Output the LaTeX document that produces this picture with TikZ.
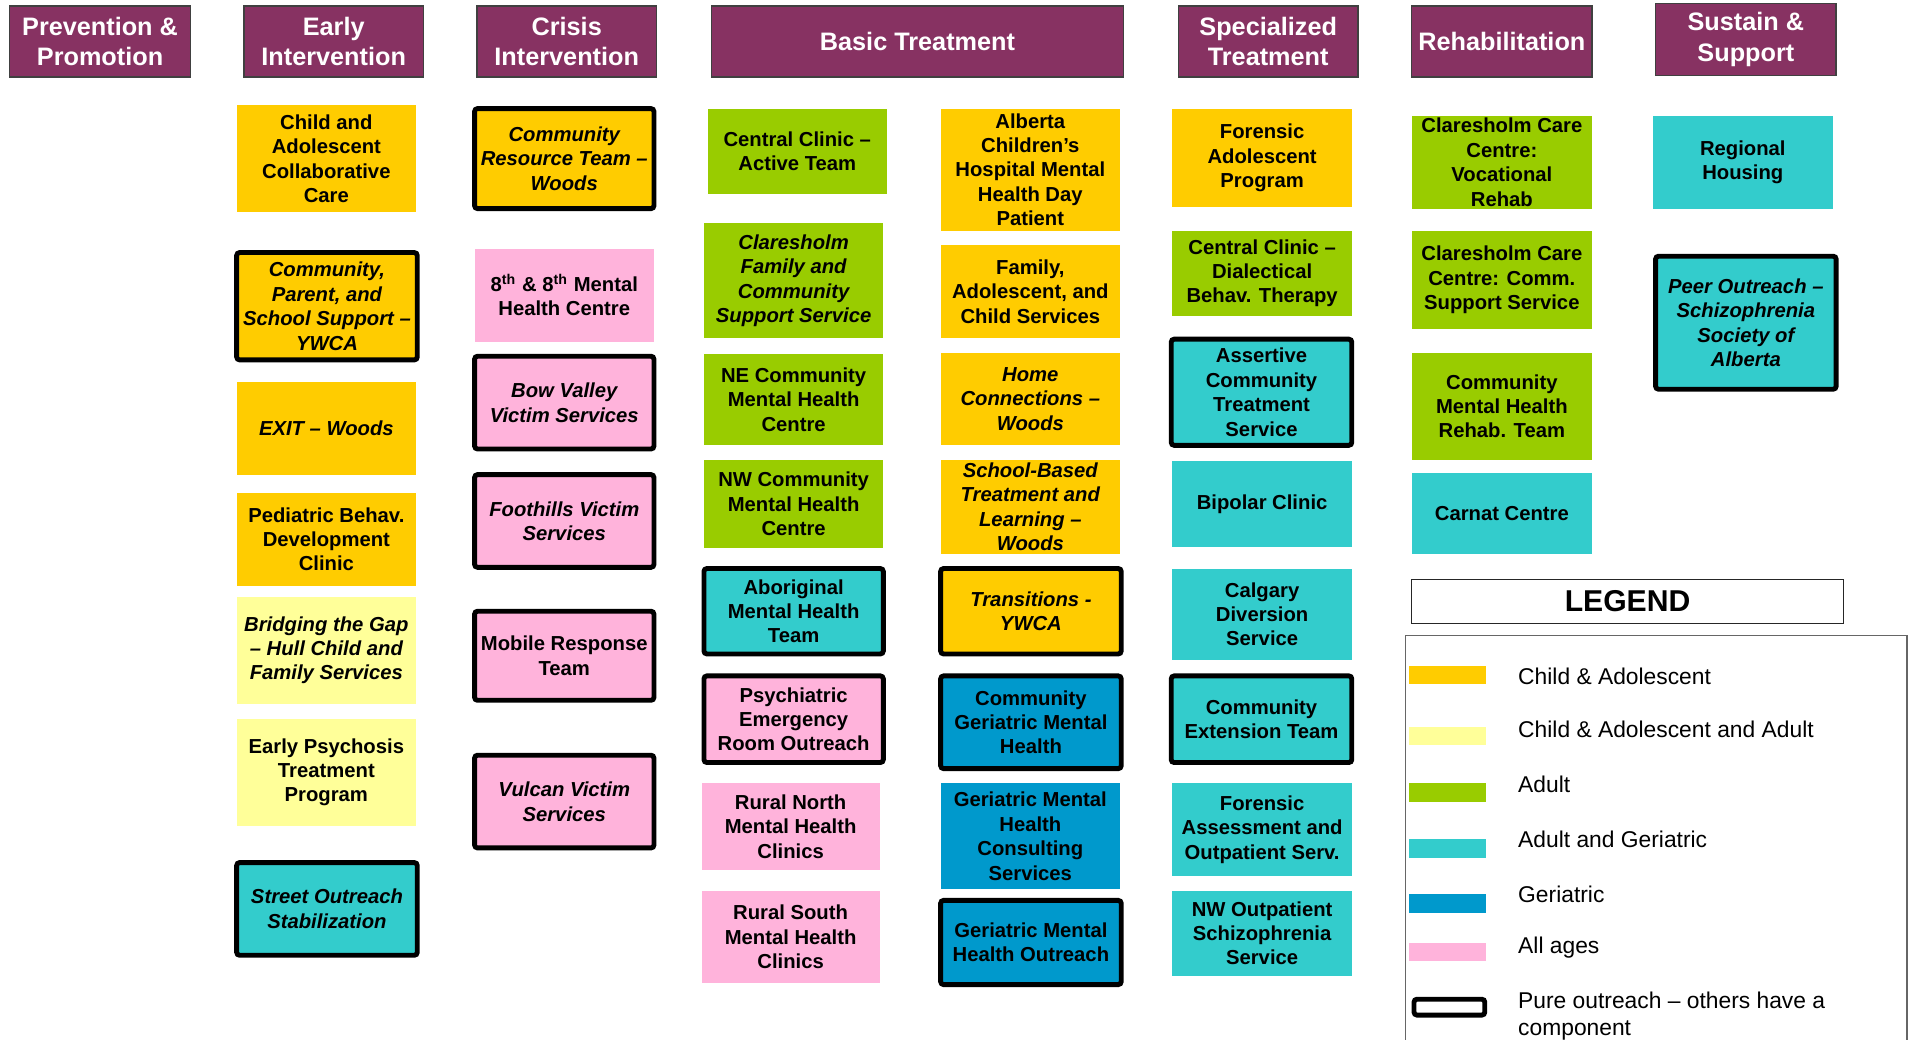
\documentclass[tikz,border=0pt]{standalone}
\usepackage{fontspec}
\setmainfont{Liberation Sans}
\definecolor{orng}{HTML}{FFCC00}
\definecolor{lyel}{HTML}{FFFF99}
\definecolor{grn}{HTML}{99CC00}
\definecolor{tealc}{HTML}{33CCCC}
\definecolor{blu}{HTML}{0099CC}
\definecolor{pnk}{HTML}{FFB3DB}
\definecolor{maroon}{HTML}{873262}
\newcommand\bxf{\fontsize{8.3}{10}\selectfont\bfseries}
\newcommand\hdf{\fontsize{10.35}{12.5}\selectfont\bfseries}
\newcommand\lgf{\fontsize{9.35}{11}\selectfont}
\newcommand\bx[7]{%
  \pgfmathsetmacro\bw{(#4-#2)*0.5}%
  \pgfmathsetmacro\bh{(#5-#3)*0.5}%
  \node[#6, minimum width=\bw pt, minimum height=\bh pt] (#1) at ({(#2+#4)/2},{(#3+#5)/2}) {#7};}
\begin{document}
\begin{tikzpicture}[x=0.5pt,y=-0.5pt,
  base/.style={inner sep=0pt, align=center, font=\bxf, text=black},
  plain/.style={base},
  outr/.style={base, draw=black, line width=2pt, rounded corners=1.2pt},
  it/.style={font=\bxf\itshape},
  hdr/.style={fill=maroon, draw=black!75, line width=0.6pt, text=white, font=\hdf, align=center, inner sep=0pt},
  swatch/.style={inner sep=0pt, minimum width=31.5pt, minimum height=7.5pt},
  legtext/.style={anchor=west, inner sep=0pt, font=\lgf, align=left}]
\useasboundingbox (0,0) rectangle (1568,852);
% headers
\bx{hprev}{8}{5}{156}{63}{hdr}{Prevention \&\\Promotion}
\bx{hearly}{200}{5}{347}{63}{hdr}{Early\\Intervention}
\bx{hcrisis}{391}{5}{538}{63}{hdr}{Crisis\\Intervention}
\bx{hbasic}{583}{5}{921}{63}{hdr}{Basic Treatment}
\bx{hspec}{966}{5}{1113}{63}{hdr}{Specialized\\Treatment}
\bx{hrehab}{1157}{5}{1305}{63}{hdr}{Rehabilitation}
\bx{hsust}{1357}{3}{1505}{62}{hdr}{Sustain \&\\Support}
% early intervention
\bx{e1}{194}{86}{341}{174}{plain,fill=orng}{Child and\\Adolescent\\Collaborative\\Care}
\bx{e2}{194}{207}{342}{295}{outr,fill=orng,it}{Community,\\Parent, and\\School Support –\\YWCA}
\bx{e3}{194}{313}{341}{389}{plain,fill=orng,it}{EXIT – Woods}
\bx{e4}{194}{404}{341}{480}{plain,fill=orng}{Pediatric Behav.\\Development\\Clinic}
\bx{e5}{194}{489}{341}{577}{plain,fill=lyel,it}{Bridging the Gap\\– Hull Child and\\Family Services}
\bx{e6}{194}{589}{341}{677}{plain,fill=lyel}{Early Psychosis\\Treatment\\Program}
\bx{e7}{194}{707}{342}{783}{outr,fill=tealc,it}{Street Outreach\\Stabilization}
% crisis
\bx{c1}{389}{89}{536}{171}{outr,fill=orng,it}{Community\\Resource Team –\\Woods}
\bx{c2}{389}{204}{536}{280}{plain,fill=pnk}{8\textsuperscript{th} \& 8\textsuperscript{th} Mental\\Health Centre}
\bx{c3}{389}{292}{536}{368}{outr,fill=pnk,it}{Bow Valley\\Victim Services}
\bx{c4}{389}{389}{536}{465}{outr,fill=pnk,it}{Foothills Victim\\Services}
\bx{c5}{389}{501}{536}{574}{outr,fill=pnk}{Mobile Response\\Team}
\bx{c6}{389}{619}{536}{695}{outr,fill=pnk,it}{Vulcan Victim\\Services}
% basic left
\bx{b1}{580}{89}{727}{159}{plain,fill=grn}{Central Clinic –\\Active Team}
\bx{b2}{577}{183}{724}{277}{plain,fill=grn,it}{Claresholm\\Family and\\Community\\Support Service}
\bx{b3}{577}{290}{724}{365}{plain,fill=grn}{NE Community\\Mental Health\\Centre}
\bx{b4}{577}{377}{724}{449}{plain,fill=grn}{NW Community\\Mental Health\\Centre}
\bx{b5}{577}{466}{724}{536}{outr,fill=tealc}{Aboriginal\\Mental Health\\Team}
\bx{b6}{577}{554}{724}{625}{outr,fill=pnk}{Psychiatric\\Emergency\\Room Outreach}
\bx{b7}{575}{642}{721}{713}{plain,fill=pnk}{Rural North\\Mental Health\\Clinics}
\bx{b8}{575}{730}{721}{806}{plain,fill=pnk}{Rural South\\Mental Health\\Clinics}
% basic right
\bx{r1}{771}{89}{918}{189}{plain,fill=orng}{Alberta\\Children’s\\Hospital Mental\\Health Day\\Patient}
\bx{r2}{771}{201}{918}{277}{plain,fill=orng}{Family,\\Adolescent, and\\Child Services}
\bx{r3}{771}{289}{918}{365}{plain,fill=orng,it}{Home\\Connections –\\Woods}
\bx{r4}{771}{377}{918}{454}{plain,fill=orng,it}{School-Based\\Treatment and\\Learning –\\Woods}
\bx{r5}{771}{466}{919}{536}{outr,fill=orng,it}{Transitions -\\YWCA}
\bx{r6}{771}{554}{919}{630}{outr,fill=blu}{Community\\Geriatric Mental\\Health}
\bx{r7}{771}{642}{918}{729}{plain,fill=blu}{Geriatric Mental\\Health\\Consulting\\Services}
\bx{r8}{771}{738}{919}{807}{outr,fill=blu}{Geriatric Mental\\Health Outreach}
% specialized
\bx{s1}{961}{89}{1108}{170}{plain,fill=orng}{Forensic\\Adolescent\\Program}
\bx{s2}{961}{189}{1108}{259}{plain,fill=grn}{Central Clinic –\\Dialectical\\Behav. Therapy}
\bx{s3}{960}{278}{1108}{365}{outr,fill=tealc}{Assertive\\Community\\Treatment\\Service}
\bx{s4}{961}{378}{1108}{448}{plain,fill=tealc}{Bipolar Clinic}
\bx{s5}{961}{466}{1108}{541}{plain,fill=tealc}{Calgary\\Diversion\\Service}
\bx{s6}{960}{554}{1108}{625}{outr,fill=tealc}{Community\\Extension Team}
\bx{s7}{961}{642}{1108}{718}{plain,fill=tealc}{Forensic\\Assessment and\\Outpatient Serv.}
\bx{s8}{961}{730}{1108}{800}{plain,fill=tealc}{NW Outpatient\\Schizophrenia\\Service}
% rehabilitation
\bx{h1}{1157}{95}{1305}{171}{plain,fill=grn}{Claresholm Care\\Centre:\\Vocational\\Rehab}
\bx{h2}{1157}{189}{1305}{270}{plain,fill=grn}{Claresholm Care\\Centre: Comm.\\Support Service}
\bx{h3}{1157}{289}{1305}{377}{plain,fill=grn}{Community\\Mental Health\\Rehab. Team}
\bx{h4}{1157}{388}{1305}{454}{plain,fill=tealc}{Carnat Centre}
% sustain
\bx{u1}{1355}{95}{1502}{171}{plain,fill=tealc}{Regional\\Housing}
\bx{u2}{1357}{210}{1505}{319}{outr,fill=tealc,it}{Peer Outreach –\\Schizophrenia\\Society of\\Alberta}
% legend
\bx{legtitle}{1157}{475}{1511}{511}{draw=black!85, line width=0.6pt, inner sep=0pt, font=\fontsize{12.35}{14}\selectfont\bfseries}{LEGEND}
\bx{legframe}{1152}{521}{1563}{880}{draw=black!60, line width=0.6pt, inner sep=0pt}{}
\node[swatch, fill=orng] (sw1) at (1186.5,553.5) {};
\node[legtext] (lt1) at (1244,554) {Child \& Adolescent};
\node[swatch, fill=lyel] (sw2) at (1186.5,603) {};
\node[legtext] (lt2) at (1244,598) {Child \& Adolescent and Adult};
\node[swatch, fill=grn] (sw3) at (1186.5,649.5) {};
\node[legtext] (lt3) at (1244,643) {Adult};
\node[swatch, fill=tealc] (sw4) at (1186.5,695.5) {};
\node[legtext] (lt4) at (1244,688) {Adult and Geriatric};
\node[swatch, fill=blu] (sw5) at (1186.5,740.5) {};
\node[legtext] (lt5) at (1244,733) {Geriatric};
\node[swatch, fill=pnk] (sw6) at (1186.5,780.5) {};
\node[legtext] (lt6) at (1244,777) {All ages};
\node[swatch, draw=black, line width=2pt, rounded corners=1.2pt, minimum width=29pt, minimum height=6.5pt] (sw7) at (1188,825.5) {};
\node[legtext] (lt7) at (1244,833) {Pure outreach – others have a\\component};
\end{tikzpicture}
\end{document}
